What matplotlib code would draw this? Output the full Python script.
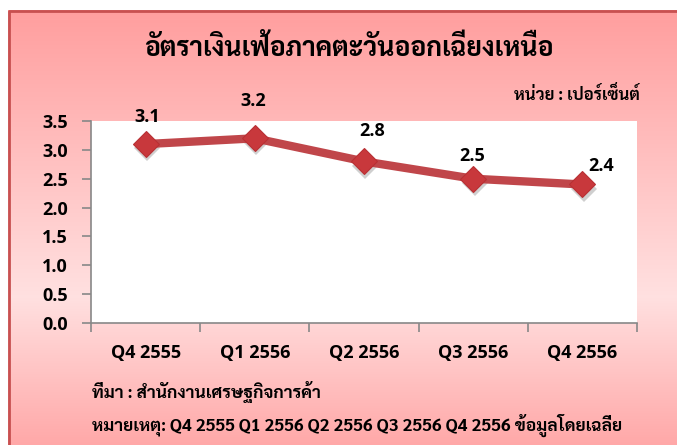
import numpy as np
import matplotlib
matplotlib.use("Agg")
import matplotlib.pyplot as plt
from matplotlib import font_manager
from matplotlib.transforms import offset_copy

# data
quarters = ["Q4 2555", "Q1 2556", "Q2 2556", "Q3 2556", "Q4 2556"]
inflation = [3.1, 3.2, 2.8, 2.5, 2.4]
value_labels = ["3.1", "3.2", "2.8", "2.5", "2.4"]

title = "อัตราเงินเฟ้อภาคตะวันออกเฉียงเหนือ"
unit_text = "หน่วย : เปอร์เซ็นต์"
source_text = "ที่มา : สำนักงานเศรษฐกิจการค้า"
note_text = "หมายเหตุ: Q4 2555 Q1 2556 Q2 2556 Q3 2556 Q4 2556 ข้อมูลโดยเฉลี่ย"

# pick fonts that are actually installed (with a real bold face)
bold_faces = {f.name for f in font_manager.fontManager.ttflist
              if isinstance(f.weight, int) and f.weight >= 700 and f.style == "normal"}
latin = next((n for n in ["Open Sans", "Noto Sans", "Lato", "Liberation Sans"]
              if n in bold_faces), "DejaVu Sans")
thai = next((n for n in ["Sarabun", "IBM Plex Sans Thai Looped", "Noto Sans Thai",
                         "Anuphan", "Loma"] if n in bold_faces), "DejaVu Sans")
plt.rcParams["font.family"] = [latin, thai, "DejaVu Sans"]
thai_fam = [thai, latin, "DejaVu Sans"]

fig = plt.figure(figsize=(6.77, 4.45), dpi=100)
W, H = 677, 445

# background: white outside, pink gradient frame
bg = fig.add_axes([0, 0, 1, 1], zorder=-10)
bg.set_xlim(0, W)
bg.set_ylim(H, 0)
bg.axis("off")
ys = np.linspace(0, 1, 256)[:, None]
top = np.array([1.0, 0.62, 0.62])
mid = np.array([1.0, 0.88, 0.88])
bot = np.array([1.0, 0.66, 0.66])
col = np.where(ys < 0.66, top + (mid - top) * np.clip(ys / 0.66, 0, 1),
               mid + (bot - mid) * np.clip((ys - 0.66) / 0.34, 0, 1))
grad = np.repeat(col[:, None, :], 2, axis=1)
bg.imshow(grad, extent=[8, W, H, 10], aspect="auto", zorder=0)
bg.plot([9, 9, W], [H, 11, 11], color="#C85050", lw=2, zorder=1)

# plot area
ax = fig.add_axes([91 / W, 1 - 323 / H, (637 - 91) / W, (323 - 121) / H])
ax.set_facecolor("white")
x = np.arange(len(quarters))
ax.plot(x, inflation, color="#C0464A", lw=6, solid_capstyle="round", zorder=3)
# soft marker shadow
shadow_tr = offset_copy(ax.transData, fig=fig, x=1, y=-3, units="points")
ax.plot(x, inflation, "D", markersize=13, color="#777777", alpha=0.35,
        transform=shadow_tr, zorder=2.5, markeredgewidth=0)
ax.plot(x, inflation, "D", markersize=13, markerfacecolor="#C8383C",
        markeredgecolor="#B83034", markeredgewidth=0.8, zorder=4)

offsets = [(1, 19.5), (-1.4, 27), (5.8, 22), (-1, 16), (13.2, 13.4)]
for xi, yi, lab, off in zip(x, inflation, value_labels, offsets):
    ax.annotate(lab, (xi, yi), xytext=off, textcoords="offset points",
                ha="center", va="center", fontsize=13, fontweight="bold")

ax.set_xlim(-0.5, len(quarters) - 0.5)
ax.set_ylim(0, 3.5)
yt = np.arange(0, 3.51, 0.5)
ax.set_yticks(yt)
ax.set_yticklabels([f"{v:.1f}" for v in yt], fontsize=13, fontweight="bold")
ax.set_xticks(np.arange(-0.5, len(quarters), 1.0))
ax.set_xticklabels([])
ax.set_xticks(x, minor=True)
ax.set_xticklabels(quarters, minor=True, fontsize=13, fontweight="bold")
ax.tick_params(axis="x", which="major", length=6.5, color="#888888", width=1.2)
ax.tick_params(axis="x", which="minor", length=0, pad=15)
ax.tick_params(axis="y", length=6.5, color="#888888", width=1.2, pad=10)
for s in ["top", "right"]:
    ax.spines[s].set_visible(False)
for s in ["left", "bottom"]:
    ax.spines[s].set_color("#888888")
    ax.spines[s].set_linewidth(1.2)

fig.text(349 / W, 1 - 48 / H, title, ha="center", va="center",
         fontsize=19, fontweight="bold", family=thai_fam)
fig.text(640 / W, 1 - 95 / H, unit_text, ha="right", va="center",
         fontsize=12, fontweight="bold", family=thai_fam)
fig.text(92 / W, 1 - 392 / H, source_text, ha="left", va="center",
         fontsize=12.5, fontweight="bold", family=thai_fam)
fig.text(92 / W, 1 - 425 / H, note_text, ha="left", va="center",
         fontsize=12.5, fontweight="bold", family=thai_fam)

fig.savefig("out.png", dpi=100)
